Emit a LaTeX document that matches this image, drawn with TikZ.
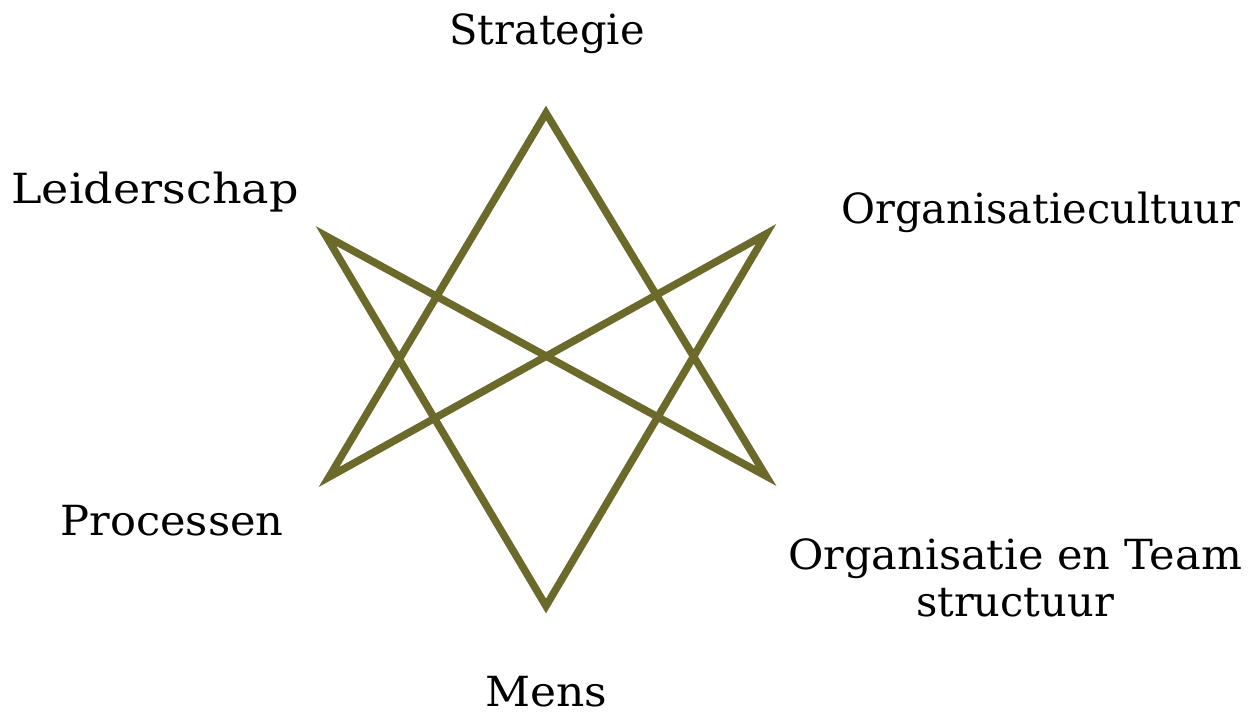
\documentclass[tikz,border=0pt]{standalone}
\usepackage{fontspec}
\setmainfont{DejaVu Serif}
\definecolor{olive}{RGB}{108,106,42}
\begin{document}
\begin{tikzpicture}[x=1pt,y=-1pt,
  lbl/.style={inner sep=0pt, font=\fontsize{41.5}{47}\selectfont, text=black, align=center},
  star/.style={draw=olive, line width=7.5pt, line join=miter, line cap=round}]
\useasboundingbox[fill=white] (0,0) rectangle (1256,718);
\coordinate (T) at (546,113);
\coordinate (UL) at (326,236);
\coordinate (UR) at (766,234);
\coordinate (LL) at (329,477);
\coordinate (LR) at (766,476);
\coordinate (B) at (546,606);
\draw[star] (T) -- (LR) -- (UL) -- (B) -- (UR) -- (LL) -- cycle;
\node[lbl] (s) at (547,34) {Strategie};
\node[lbl] (l) at (155,192) {\scalebox{1.11}[1]{Leiderschap}};
\node[lbl] (o) at (1041,212) {Organisatiecultuur};
\node[lbl] (p) at (172,521) {\scalebox{1.04}[1]{Processen}};
\node[lbl] (ot) at (1015,578) {\scalebox{1.04}[1]{Organisatie en Team}\\structuur};
\node[lbl] (m) at (546,692) {\scalebox{1.06}[1]{Mens}};
\end{tikzpicture}
\end{document}
